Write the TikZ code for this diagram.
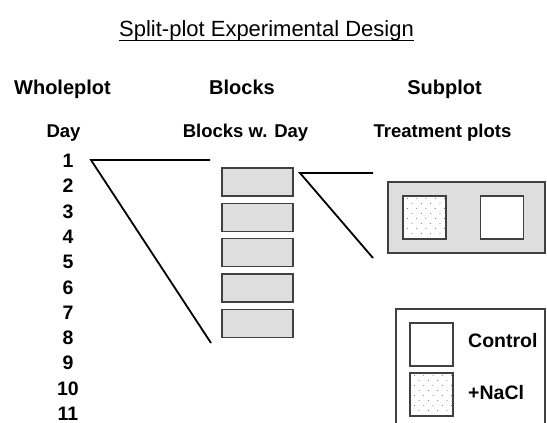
\documentclass[tikz,border=0pt]{standalone}
\usepackage{fontspec}
\setmainfont{Liberation Sans}
\usetikzlibrary{calc}
\newcommand\stipple[1]{%
  \begin{scope}
    \clip (#1.north west) rectangle (#1.south east);
    \foreach \r in {0,...,7} {
      \foreach \c in {0,...,4} {
        \pgfmathsetmacro\dx{5+\c*9.3+mod(\r,2)*4.65}
        \pgfmathsetmacro\dy{3+\r*5}
        \fill[black!55] ($(#1.north west)+(\dx,\dy)$) circle (0.55pt);
      }
    }
  \end{scope}}
\begin{document}
\begin{tikzpicture}[x=1pt,y=-1pt,
  txt/.style={inner sep=0pt, anchor=base},
  hdr/.style={txt, font=\fontsize{20}{24}\selectfont\bfseries},
  subhdr/.style={txt, font=\fontsize{18.5}{22}\selectfont\bfseries},
  num/.style={txt, font=\fontsize{19.5}{22}\selectfont\bfseries},
  leg/.style={txt, anchor=base west, font=\fontsize{19.5}{22}\selectfont\bfseries},
  blk/.style={draw=black!75, fill=black!13, line width=1.2pt, minimum width=71pt, minimum height=28pt, inner sep=0pt},
  conn/.style={line width=1.8pt},
  sq/.style={draw=black!75, line width=1.2pt, fill=white, minimum size=43pt, inner sep=0pt}
]
\useasboundingbox (0,0) rectangle (547,423);
% title
\node[txt, font=\fontsize{22}{26}\selectfont] (title) at (266.5,37) {Split-plot Experimental Design};
\draw[line width=1pt] ([yshift=-3pt]title.base west) -- ([yshift=-3pt]title.base east);
% headers
\node[hdr] (hwhole) at (62.5,94) {Wholeplot};
\node[hdr] (hblocks) at (242,94) {Blocks};
\node[hdr] (hsub) at (444.5,94) {Subplot};
\node[subhdr] (sday) at (63.5,137) {Day};
\node[subhdr] (sblocks) at (245.5,137) {Blocks w. Day};
\node[subhdr] (streat) at (442.5,137) {Treatment plots};
% day numbers
\foreach \i in {1,...,11} {
  \node[num] (n\i) at (68,{167.5+25.3*(\i-1)}) {\i};
}
% blocks
\foreach \i in {1,...,5} {
  \node[blk] (b\i) at (257.5,{182+35.3*(\i-1)}) {};
}
% connectors wholeplot -> blocks
\coordinate (p1) at (91,160);
\coordinate (p1a) at (210,160);
\coordinate (p1b) at (211,343);
\draw[conn] (p1a) -- (p1) -- (p1b);
% connectors block -> subplot
\coordinate (p2) at (300,173);
\coordinate (p2a) at (373,173);
\coordinate (p2b) at (373,258);
\draw[conn] (p2a) -- (p2) -- (p2b);
% subplot box
\node[draw=black!75, fill=black!13, line width=1.2pt, minimum width=157pt, minimum height=71pt, inner sep=0pt] (plot) at (466.5,217.5) {};
\node[sq] (salt) at (424.5,217.5) {};
\stipple{salt}
\node[sq] (ctrl) at (502,217.5) {};
% legend
\fill[white] (396,430) rectangle (545,309);
\draw[draw=black!75, line width=1.2pt] (396,430) -- (396,309) -- (545,309) -- (545,430);
\node[sq] (lctrl) at (431.5,344.5) {};
\node[sq] (lsalt) at (431.5,394.5) {};
\stipple{lsalt}
\node[leg] (tctrl) at (468,347) {Control};
\node[leg] (tsalt) at (468,399) {+NaCl};
\end{tikzpicture}
\end{document}
